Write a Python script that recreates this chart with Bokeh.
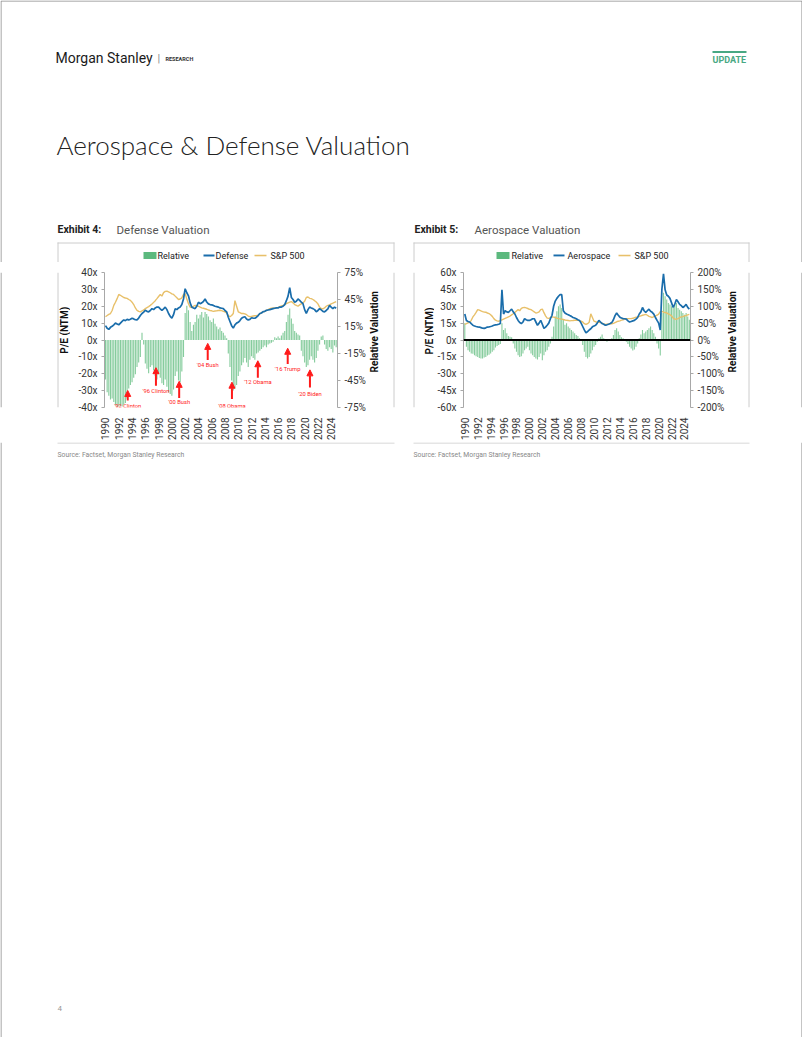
import numpy as np
from bokeh.plotting import figure
from bokeh.models import (Range1d, LinearAxis, FixedTicker, PrintfTickFormatter,
                          Arrow, NormalHead, ColumnDataSource, Span)
from bokeh.layouts import column, row
from bokeh.core.properties import value
from bokeh.embed import file_html
from bokeh.resources import INLINE

FONT = "Roboto"
GREEN = "#86cc9d"
GREEN_KEY = "#5cb97e"
BLUE = "#1a6dab"
GOLD = "#e8c06a"
RED = "#ff1a1a"
EDGE = "#8a8a8a"
BOX = "#cccccc"

# ---------------- data (quarterly) ----------------
years = list(range(1990, 2025))
quarters = [0.0, 0.25, 0.5, 0.75]
dates = [y + q for y in years for q in quarters]

sp500_pe = [
    13.8, 14.5, 15.2, 15.7,  17.5, 20.5, 22.4, 24.5,  27.0, 26.5, 25.8, 25.2,
    24.9, 24.7, 24.0, 23.5,  22.4, 21.0, 19.0, 17.6,  17.0, 16.7, 17.2, 17.8,
    18.6, 19.2, 19.8, 20.5,  21.3, 22.3, 23.3, 24.5,  25.8, 27.0, 26.0, 28.1,
    28.8, 29.0, 28.5, 28.0,  27.3, 27.0, 26.0, 25.0,  24.0, 24.3, 25.0, 27.0,
    27.5, 24.3, 21.5, 19.5,  19.2, 20.0, 20.5, 20.3,  20.0, 19.5, 19.0, 18.8,
    18.5, 18.2, 17.8, 17.5,  17.3, 17.0, 17.2, 17.3,  17.5, 17.6, 17.4, 17.0,
    16.7, 16.0, 14.5, 13.8,  14.5, 15.7, 23.3, 20.0,  16.7, 16.2, 15.7, 15.7,
    15.5, 15.0, 14.2, 13.8,  14.0, 14.2, 14.4, 14.4,  14.8, 15.5, 16.2, 16.7,
    17.0, 17.6, 18.0, 18.6,  18.8, 19.0, 19.0, 19.0,  19.3, 19.8, 20.2, 20.5,
    21.0, 21.5, 22.0, 22.4,  22.8, 22.0, 21.0, 20.5,  20.0, 20.8, 21.4, 22.0,
    23.0, 25.2, 25.5, 24.7,  24.5, 24.0, 23.3, 22.5,  21.4, 19.5, 18.6, 18.5,
    19.0, 20.0, 20.5, 20.8,  21.4, 21.8, 22.3, 22.8,
]

defense_pe = [
    8.5, 7.0, 6.3, 7.5,  8.1, 9.0, 10.0, 9.5,  9.0, 10.0, 11.0, 11.9,
    11.5, 12.2, 11.9, 12.3,  12.9, 12.5, 12.0, 11.9,  13.0, 14.5, 15.7, 16.5,
    17.6, 17.0, 16.7, 17.5,  18.6, 18.0, 19.0, 19.5,  19.5, 18.5, 17.6, 18.5,
    19.5, 18.0, 15.7, 14.0,  12.9, 15.0, 18.6, 18.0,  19.0, 19.5, 21.0, 24.3,
    30.4, 28.0, 26.2, 22.0,  19.5, 19.0, 18.6, 20.0,  22.4, 21.5, 22.0, 22.8,
    24.3, 22.5, 21.4, 21.0,  20.8, 20.5, 20.0, 19.8,  19.5, 19.0, 18.8, 18.6,
    17.5, 16.7, 13.5, 11.0,  8.5, 7.1, 9.0, 10.0,  10.5, 11.5, 12.9, 13.5,
    13.8, 12.5, 11.9, 12.2,  13.2, 13.0, 12.9, 13.5,  14.5, 15.7, 16.0, 16.8,
    17.0, 17.6, 17.8, 18.0,  18.3, 18.6, 18.8, 19.0,  19.0, 19.5, 19.5, 20.0,
    21.0, 23.3, 26.0, 31.0,  25.2, 24.0, 22.4, 23.0,  24.3, 23.5, 22.4, 21.5,
    18.0, 15.7, 18.0, 19.5,  19.0, 18.6, 18.0, 16.7,  17.5, 18.6, 17.8, 17.0,
    16.7, 17.5, 18.5, 20.5,  19.5, 18.6, 19.5, 18.8,
]

defense_rel = [
    -44, -58, -62, -66,  -65, -69, -72, -74,  -74, -73, -74, -72,
    -70, -65, -54, -50,  -47, -42, -38, -30,  -25, -19, 8, -5,
    -26, -32, -37, -30,  -28, -34, -40, -44,  -38, -42, -48, -50,
    -44, -52, -58, -60,  -62, -55, -40, -35,  -45, -47, -35, -19,
    30, 38, 33, 20,  10, 17, 20, 28,  24, 28, 31, 25,
    31, 29, 26, 22,  20, 24, 18, 15,  12, 14, 10, 8,
    5, 2, -15, -30,  -45, -56, -54, -50,  -40, -35, -28, -25,
    -20, -25, -30, -22,  -18, -20, -22, -15,  -14, -12, -10, -8,
    -6, -8, -5, -4,  -3, -2, 3, 2,  4, 2, 5, 8,
    10, 20, 28, 35,  24, 18, 10, 8,  6, 5, -12, -18,
    -25, -30, -28, -22,  -18, -22, -25, -20,  -12, -5, 4, 5,
    -5, -10, -12, -8,  -10, -14, -6, -8,
]

aero_pe = [
    23.1, 17.4, 16.5, 16.0,  14.5, 13.1, 12.5, 12.0,  11.7, 11.5, 11.0, 10.5,
    10.3, 10.8, 11.5, 11.7,  12.0, 12.5, 13.1, 13.5,  13.7, 14.0, 14.6, 44.6,
    23.1, 26.0, 25.0, 24.6,  26.0, 27.4, 25.0, 23.1,  20.0, 17.4, 15.5, 14.6,
    16.0, 18.9, 18.0, 17.4,  17.4, 18.0, 18.9, 18.9,  16.0, 13.1, 15.0, 17.4,
    14.0, 10.3, 11.5, 13.1,  15.0, 18.9, 22.0, 30.0,  34.6, 37.0, 38.9, 40.3,
    40.3, 26.0, 24.0, 23.1,  22.5, 21.7, 21.0, 20.0,  19.5, 18.9, 18.0, 17.4,
    15.0, 12.0, 9.0, 6.3,  7.5, 8.9, 10.0, 11.7,  12.5, 13.1, 15.0, 17.4,
    16.0, 14.6, 14.0, 13.1,  13.5, 14.0, 14.6, 15.5,  18.0, 21.7, 24.0, 22.0,
    20.3, 19.5, 19.0, 18.9,  18.5, 17.0, 16.0, 16.5,  17.0, 17.4, 18.5, 20.0,
    23.1, 25.0, 28.9, 26.0,  24.6, 26.0, 27.4, 25.5,  24.6, 23.0, 20.0, 17.4,
    15.0, 8.9, 45.0, 58.9,  44.6, 40.0, 38.9, 37.0,  33.0, 28.9, 32.0, 36.0,
    34.0, 31.7, 30.5, 28.9,  30.0, 31.7, 29.0, 27.4,
]

aero_rel = [
    50, -20, -30, -35,  -40, -41, -45, -48,  -50, -53, -55, -55,
    -52, -50, -46, -44,  -40, -35, -30, -22,  -18, -15, -12, 50,
    30, 35, 20, 12,  10, 8, -10, -25,  -35, -45, -50, -48,
    -40, -30, -25, -20,  -30, -40, -45, -50,  -55, -58, -50, -40,
    -60, -45, -35, -30,  -20, -10, 10, 40,  70, 85, 100, 105,
    95, 60, 45, 50,  40, 35, 30, 25,  20, 15, 12, 5,
    3, -15, -35, -50,  -55, -50, -40, -30,  -20, -15, -5, 5,
    10, 16, 5, -3,  -5, -2, 3, 5,  15, 30, 35, 25,
    15, 8, 5, 3,  -5, -12, -20, -25,  -31, -28, -20, -10,
    5, 16, 30, 20,  25, 30, 35, 40,  30, 20, 10, -10,
    -25, -46, 80, 140,  130, 120, 110, 105,  100, 95, 105, 110,
    95, 90, 85, 80,  75, 80, 70, 60,
]

xtick_years = list(range(1990, 2025, 2))
ex4_left_ticks = [-40, -30, -20, -10, 0, 10, 20, 30, 40]
ex4_right_ticks = [-75, -45, -15, 15, 45, 75]
ex5_left_ticks = [-60, -45, -30, -15, 0, 15, 30, 45, 60]
ex5_right_ticks = [-200, -150, -100, -50, 0, 50, 100, 150, 200]

events = ["'92 Clinton", "'96 Clinton", "'00 Bush", "'04 Bush",
          "'08 Obama", "'12 Obama", "'16 Trump", "'20 Biden"]
event_x = [1993.35, 1997.6, 2001.1, 2005.4, 2009.05, 2012.95, 2017.45, 2020.8]
event_tip = [-29.9, -16.4, -24.5, -2.0, -25.0, -12.3, -4.9, -17.7]
event_tail = [-35.9, -27.1, -34.4, -11.9, -34.9, -22.4, -14.2, -28.2]
event_label_y = [-39.1, -30.0, -36.7, -15.0, -38.9, -25.0, -17.3, -31.9]

legend_labels_4 = ["Relative", "Defense", "S&P 500"]
legend_labels_5 = ["Relative", "Aerospace", "S&P 500"]

# ---------------- page geometry (pixels) ----------------
HDR_H = 262           # header incl. exhibit titles + legends
CH_H = 180            # chart strip (frame 272..412)
FTR_H = 1037 - HDR_H - CH_H
COLS = [70, 298, 66, 293, 75]   # left spacer, chart 4, middle spacer, chart 5, right spacer
X4 = COLS[0]
X4R = X4 + COLS[1]
X5 = X4R + COLS[2]
X5R = X5 + COLS[3]
BOX4 = (57, 394)
BOX5 = (413, 749)
BOX_TOP, BOX_BOT = 242, 442


# ---------------- helpers ----------------
def page_fig(x0, y0, w, h):
    f = figure(width=w, height=h, x_range=Range1d(x0, x0 + w), y_range=Range1d(y0 + h, y0),
               output_backend="svg", toolbar_location=None, min_border=0,
               x_axis_location=None, y_axis_location=None)
    f.grid.visible = False
    f.outline_line_color = None
    f.background_fill_color = "white"
    f.border_fill_color = "white"
    return f


def txt(f, x, y, s, size, color="#222222", style="normal", font=FONT, align="left",
        base="middle", angle=0.0):
    f.text(x=[x], y=[y], text=[s], text_font=value(font), text_font_size=size,
           text_color=color, text_font_style=style, text_align=align, text_baseline=base,
           angle=angle)


def seg(f, xs, ys, color, w=1):
    f.line(xs, ys, line_color=color, line_width=w)


def axis_title(f, x, y, s):
    txt(f, x, y, s, "10px", "#111111", "bold", align="center", angle=np.pi / 2)


def legend_row(f, xs, labels, y=255):
    # swatch for the bars, then line keys for the two P/E series
    f.quad(left=[xs[0]], right=[xs[0] + 13], top=[y - 3.5], bottom=[y + 3.5],
           fill_color=GREEN_KEY, line_color=None)
    seg(f, [xs[2], xs[2] + 11], [y, y], BLUE, 1.8)
    seg(f, [xs[4], xs[4] + 12], [y, y], GOLD, 1.6)
    for lx, lab in zip([xs[1], xs[3], xs[5]], labels):
        txt(f, lx, y, lab, "9px", "#222222")


def chart(width, xr, yl, yr, lticks, rticks, pe, rel, bl, br, zero_line):
    p = figure(width=width, height=CH_H, x_range=Range1d(*xr), y_range=Range1d(*yl),
               output_backend="svg", toolbar_location=None,
               min_border_left=bl, min_border_right=br, min_border_top=10,
               min_border_bottom=30)
    p.extra_y_ranges = {"rel": Range1d(*yr)}
    p.grid.visible = False
    p.outline_line_color = None
    p.background_fill_color = "white"
    p.border_fill_color = "white"

    p.vbar(x=dates, top=rel, bottom=0, width=0.17, y_range_name="rel",
           fill_color=GREEN, line_color=None)
    p.line(dates, sp500_pe, line_color=GOLD, line_width=1.4)
    p.line(dates, pe, line_color=BLUE, line_width=1.7)
    if zero_line:
        p.add_layout(Span(location=0, dimension="width", line_color="black", line_width=2))

    xa = p.xaxis[0]
    xa.ticker = FixedTicker(ticks=xtick_years)
    xa.formatter = PrintfTickFormatter(format="%d")
    xa.major_label_orientation = np.pi / 2
    xa.axis_line_color = None
    xa.major_tick_line_color = None
    xa.minor_tick_line_color = None
    xa.major_label_standoff = 4
    xa.major_label_text_font = FONT
    xa.major_label_text_font_size = "10px"
    xa.major_label_text_color = "#333333"

    ya = p.yaxis[0]
    ya.ticker = FixedTicker(ticks=lticks)
    ya.formatter = PrintfTickFormatter(format="%dx")

    ra = LinearAxis(y_range_name="rel", ticker=FixedTicker(ticks=rticks),
                    formatter=PrintfTickFormatter(format="%d%%"))
    p.add_layout(ra, "right")

    for a in (ya, ra):
        a.axis_line_color = "#a8a8a8"
        a.major_tick_line_color = "#a8a8a8"
        a.minor_tick_line_color = None
        a.major_tick_out = 3
        a.major_tick_in = 0
        a.major_label_standoff = 4
        a.major_label_text_font = FONT
        a.major_label_text_font_size = "10px"
        a.major_label_text_color = "#333333"
    return p


# ---------------- page header ----------------
hdr = page_fig(0, 0, 802, HDR_H)
hdr.line([0.5, 0.5, 801.5, 801.5], [HDR_H, 0.5, 0.5, HDR_H], line_color=EDGE, line_width=1)
txt(hdr, 55, 57.5, "Morgan Stanley", "14px", "#1a1a1a")
txt(hdr, 157, 57.5, "|", "11px", "#888888")
txt(hdr, 165, 58, "RESEARCH", "5.5px", "#333333", "bold")
seg(hdr, [712, 746], [51.5, 51.5], "#48a883", 2)
txt(hdr, 712, 59, "UPDATE", "9px", "#48a883", "bold")
txt(hdr, 56, 144, "Aerospace & Defense Valuation", "26px", "#222222",
    font="Lato Light, Roboto Light", base="alphabetic")
txt(hdr, 57, 229, "Exhibit 4:", "10.5px", "#222222", "bold")
txt(hdr, 116, 229, "Defense Valuation", "11.5px", "#555555")
txt(hdr, 414, 229, "Exhibit 5:", "10.5px", "#222222", "bold")
txt(hdr, 474, 229, "Aerospace Valuation", "11.5px", "#555555")
for (bx0, bx1) in (BOX4, BOX5):
    seg(hdr, [bx0, bx1], [BOX_TOP + 0.5, BOX_TOP + 0.5], BOX)
    seg(hdr, [bx0 + 0.5, bx0 + 0.5], [BOX_TOP, HDR_H], BOX)
    seg(hdr, [bx1 - 0.5, bx1 - 0.5], [BOX_TOP, HDR_H], BOX)
legend_row(hdr, [143, 157, 203, 215, 254, 270], legend_labels_4)
legend_row(hdr, [496, 511, 553, 567, 618, 634], legend_labels_5)

# ---------------- charts ----------------
p4 = chart(COLS[1], (1989.85, 2024.95), (-40, 40), (-75, 75), ex4_left_ticks, ex4_right_ticks,
           defense_pe, defense_rel, 104 - X4, X4R - 338, False)
arrows = ColumnDataSource(dict(x=event_x, tip=event_tip, tail=event_tail))
p4.add_layout(Arrow(end=NormalHead(size=6, fill_color=RED, line_color=RED),
                    x_start="x", y_start="tail", x_end="x", y_end="tip", source=arrows,
                    line_color=RED, line_width=2))
p4.text(x=event_x, y=event_label_y, text=events, text_font=value(FONT), text_font_size="5.8px",
        text_color=RED, text_align="center", text_baseline="middle")

p5 = chart(COLS[3], (1989.8, 2024.93), (-60, 60), (-200, 200), ex5_left_ticks, ex5_right_ticks,
           aero_pe, aero_rel, 463 - X5, X5R - 691, True)

sp_left = page_fig(0, HDR_H, COLS[0], CH_H)
seg(sp_left, [0.5, 0.5], [HDR_H, BOX_BOT], EDGE)
seg(sp_left, [BOX4[0] + 0.5, BOX4[0] + 0.5], [HDR_H, BOX_BOT], BOX)
axis_title(sp_left, 63.5, 339, "P/E (NTM)")

sp_mid = page_fig(X4R, HDR_H, COLS[2], CH_H)
seg(sp_mid, [BOX4[1] - 0.5, BOX4[1] - 0.5], [HDR_H, BOX_BOT], BOX)
seg(sp_mid, [BOX5[0] + 0.5, BOX5[0] + 0.5], [HDR_H, BOX_BOT], BOX)
axis_title(sp_mid, 373.5, 341, "Relative Valuation")
axis_title(sp_mid, 428.5, 340, "P/E (NTM)")

sp_right = page_fig(X5R, HDR_H, COLS[4], CH_H)
seg(sp_right, [BOX5[1] - 0.5, BOX5[1] - 0.5], [HDR_H, BOX_BOT], BOX)
seg(sp_right, [801.5, 801.5], [HDR_H, BOX_BOT], EDGE)
axis_title(sp_right, 731.5, 341, "Relative Valuation")

mid = row(sp_left, p4, sp_mid, p5, sp_right)

# ---------------- footer ----------------
ftr = page_fig(0, BOX_BOT, 802, FTR_H)
seg(ftr, [0.5, 0.5], [BOX_BOT, 1037], EDGE)
seg(ftr, [801.5, 801.5], [BOX_BOT, 1037], EDGE)
for (bx0, bx1) in (BOX4, BOX5):
    seg(ftr, [bx0, bx1], [BOX_BOT + 0.5, BOX_BOT + 0.5], BOX)
txt(ftr, 57, 454, "Source: Factset, Morgan Stanley Research", "6.8px", "#888888")
txt(ftr, 413, 454, "Source: Factset, Morgan Stanley Research", "6.8px", "#888888")
txt(ftr, 57, 1008, "4", "8px", "#999999")

page = column(hdr, mid, ftr)

open("out.html", "w").write(file_html(page, INLINE))
